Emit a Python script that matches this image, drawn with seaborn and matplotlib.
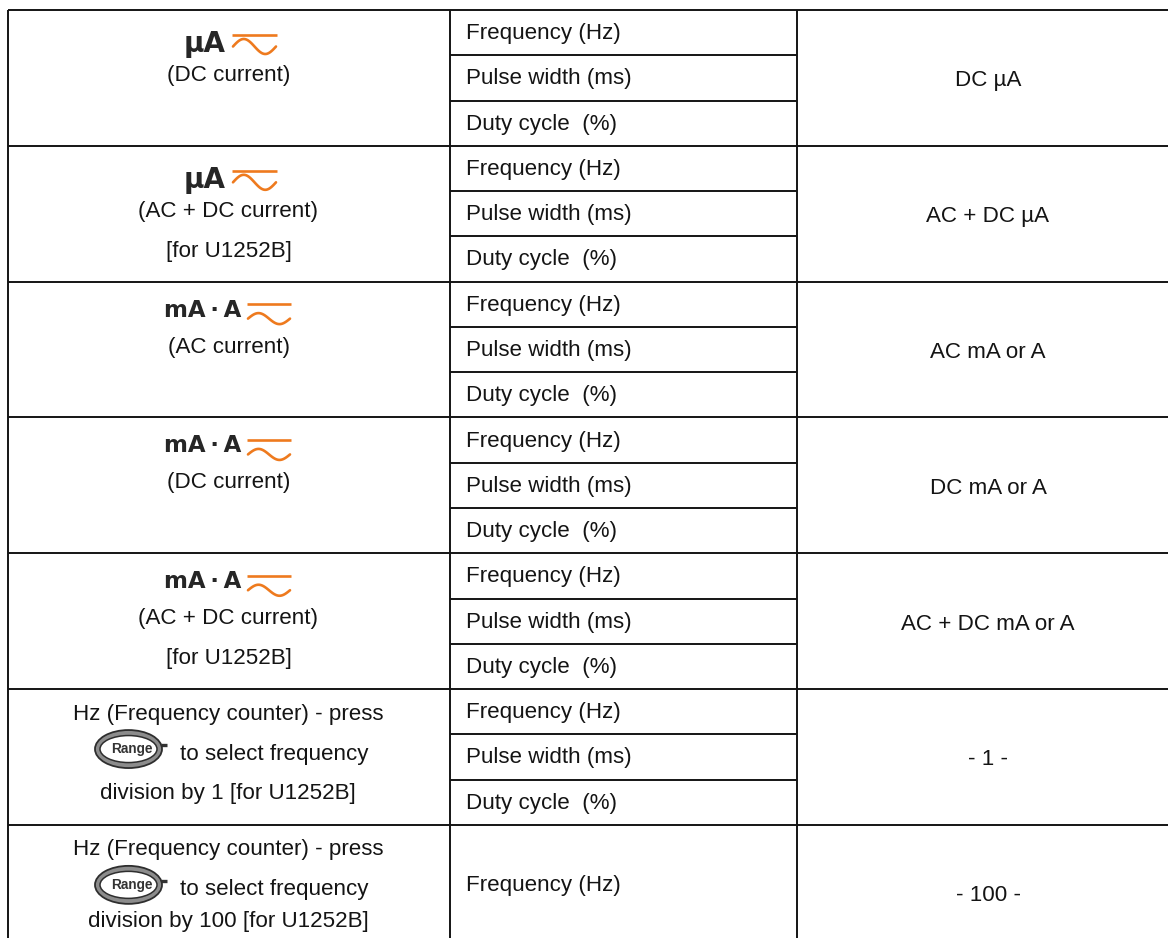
import numpy as np
import matplotlib
matplotlib.use("Agg")
import matplotlib.pyplot as plt
from matplotlib.patches import Ellipse
import seaborn as sns

sns.set_theme(style="white")
TEXT_FONT = ['Liberation Sans', 'DejaVu Sans']
plt.rcParams['font.family'] = TEXT_FONT

# ---- table content -------------------------------------------------
symbols = ["µA", "µA", "mA\u2009·\u2009A", "mA\u2009·\u2009A", "mA\u2009·\u2009A", None, None]
left_text = [
    ["(DC current)"],
    ["(AC + DC current)", "[for U1252B]"],
    ["(AC current)"],
    ["(DC current)"],
    ["(AC + DC current)", "[for U1252B]"],
    ["Hz (Frequency counter) - press", "to select frequency", "division by 1 [for U1252B]"],
    ["Hz (Frequency counter) - press", "to select frequency", "division by 100 [for U1252B]"],
]
sub_modes = ["Frequency (Hz)", "Pulse width (ms)", "Duty cycle  (%)"]
sub_rows = [sub_modes] * 6 + [sub_modes[:1]]
right_text = ["DC µA", "AC + DC µA", "AC mA or A", "DC mA or A",
              "AC + DC mA or A", "- 1 -", "- 100 -"]

# ---- layout (pixels) ------------------------------------------------
W, H = 1168, 938
X0, X1, X2 = 8, 450, 797
Y0, ROW = 10, 45.27
FS = 16.1
LW = 1.4
INK = "#141414"
ORANGE = "#EE7A1E"
BOLD = dict(fontweight="bold", color="#262626", family=["DejaVu Sans"])

fig = plt.figure(figsize=(W / 100, H / 100), dpi=100, facecolor="white")
ax = fig.add_axes([0, 0, 1, 1])
ax.set_xlim(0, W)
ax.set_ylim(H, 0)
ax.axis("off")


def rule(xs, ys, color=INK, lw=LW, cap="butt"):
    sns.lineplot(x=xs, y=ys, ax=ax, color=color, linewidth=lw, sort=False,
                 estimator=None, solid_capstyle=cap)


def label(x, y, s, ha="center"):
    ax.text(x, y + 7.5, s, ha=ha, va="baseline", fontsize=FS, color=INK)


def ac_dc_symbol(x, bar_y, wave_y, width, amp):
    rule([x, x + width], [bar_y, bar_y], color=ORANGE, lw=1.9)
    xs = np.linspace(0, 1, 60)
    rule(x + 1 + (width - 2) * xs, wave_y - amp * np.sin(2 * np.pi * xs),
         color=ORANGE, lw=1.9, cap="round")


def range_button(cx, cy):
    rule([cx + 32, cx + 38], [cy - 4, cy - 4], color="#333333", lw=2.4)
    ax.add_patch(Ellipse((cx, cy), 67, 38, fc="#8c8c8c", ec="#2e2e2e", lw=1.3, zorder=3))
    ax.add_patch(Ellipse((cx, cy), 57, 27, fc="white", ec="#2e2e2e", lw=1.1, zorder=3))
    ax.text(cx + 3, cy, "Range", ha="center", va="center", fontsize=9.8,
            fontweight="bold", color="#333333", family=["Liberation Sans", "DejaVu Sans"], zorder=4)


cx0 = 228.5
cx2 = 988
y = Y0
for i, (sym, lines, subs, right) in enumerate(zip(symbols, left_text, sub_rows, right_text)):
    top = y
    bottom = top + 3 * ROW

    # middle column
    if len(subs) == 3:
        for j, s in enumerate(subs):
            label(466, top + (j + 0.5) * ROW - 1, s, ha="left")
            if j < 2:
                rule([X1, X2], [top + (j + 1) * ROW] * 2)
    else:
        label(466, top + 58.5, subs[0], ha="left")

    # right column
    label(cx2, top + 68.8, right)

    # left column
    if sym == "µA":
        ax.text(184, top + 42, sym, ha="left", va="baseline", fontsize=20, **BOLD)
        ac_dc_symbol(232, top + 24.7, top + 36.5, 45, 7.5)
    elif sym is not None:
        ax.text(164, top + 35, sym, ha="left", va="baseline", fontsize=16.5, **BOLD)
        ac_dc_symbol(247, top + 22.5, top + 37, 44, 5.5)
    if sym is not None:
        label(cx0, top + 63.5, lines[0])
        if len(lines) > 1:
            label(cx0, top + 103.5, lines[1])
    else:
        last = 102 if i == 5 else 95
        label(cx0, top + 23, lines[0])
        label(274.5, top + 63, lines[1])
        range_button(128.5, top + 60)
        label(cx0 - 1 if i == 5 else cx0, top + last, lines[2])

    # row rule
    rule([X0, W], [top, top])
    y = bottom

# vertical rules run to the bottom of the picture
for x in (X0, X1, X2):
    rule([x, x], [Y0, H])

fig.savefig("out.png", dpi=100, facecolor="white")
